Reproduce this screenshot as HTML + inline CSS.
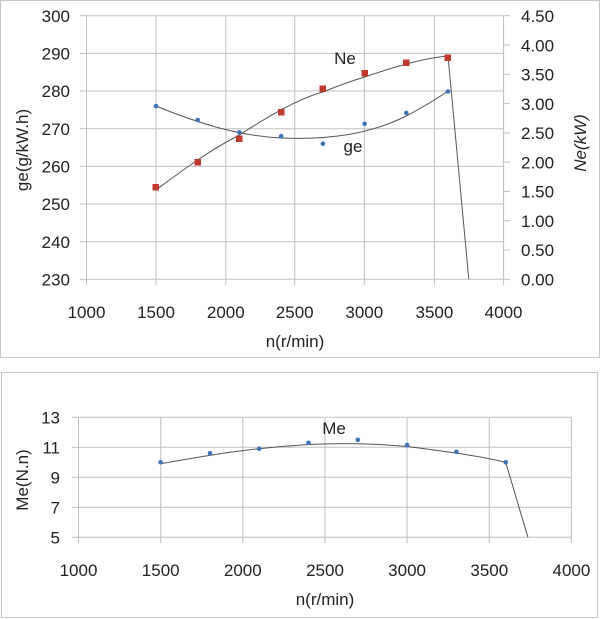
<!DOCTYPE html>
<html><head><style>
body{margin:0;background:#fff;}
svg{display:block;font-family:"Liberation Sans",Arial,sans-serif;}
</style></head><body>
<svg width="600" height="619" viewBox="0 0 600 619" xmlns="http://www.w3.org/2000/svg">
<rect x="0.5" y="0.5" width="599" height="357" fill="#fff" stroke="#c8c8c8"/>
<rect x="1.5" y="372.5" width="596" height="245" fill="#fff" stroke="#c8c8c8"/>
<g stroke="#c0c0c0" stroke-width="1">
<line x1="86.5" y1="15.7" x2="503.6" y2="15.7"/>
<line x1="86.5" y1="53.4" x2="503.6" y2="53.4"/>
<line x1="86.5" y1="91" x2="503.6" y2="91"/>
<line x1="86.5" y1="128.7" x2="503.6" y2="128.7"/>
<line x1="86.5" y1="166.4" x2="503.6" y2="166.4"/>
<line x1="86.5" y1="204" x2="503.6" y2="204"/>
<line x1="86.5" y1="241.7" x2="503.6" y2="241.7"/>
<line x1="86.5" y1="279.3" x2="503.6" y2="279.3"/>
<line x1="80" y1="15.7" x2="86.5" y2="15.7"/><line x1="80" y1="53.4" x2="86.5" y2="53.4"/><line x1="80" y1="91" x2="86.5" y2="91"/><line x1="80" y1="128.7" x2="86.5" y2="128.7"/><line x1="80" y1="166.4" x2="86.5" y2="166.4"/><line x1="80" y1="204" x2="86.5" y2="204"/><line x1="80" y1="241.7" x2="86.5" y2="241.7"/><line x1="80" y1="279.3" x2="86.5" y2="279.3"/>
<line x1="86.5" y1="15.7" x2="86.5" y2="285"/>
<line x1="156" y1="15.7" x2="156" y2="285"/>
<line x1="225.8" y1="15.7" x2="225.8" y2="285"/>
<line x1="294.7" y1="15.7" x2="294.7" y2="285"/>
<line x1="364.3" y1="15.7" x2="364.3" y2="285"/>
<line x1="434.4" y1="15.7" x2="434.4" y2="285"/>
<line x1="503.6" y1="15.7" x2="503.6" y2="285"/>
<line x1="503.6" y1="45" x2="510" y2="45"/><line x1="503.6" y1="74.3" x2="510" y2="74.3"/><line x1="503.6" y1="103.6" x2="510" y2="103.6"/><line x1="503.6" y1="132.9" x2="510" y2="132.9"/><line x1="503.6" y1="162.1" x2="510" y2="162.1"/><line x1="503.6" y1="191.4" x2="510" y2="191.4"/><line x1="503.6" y1="220.7" x2="510" y2="220.7"/><line x1="503.6" y1="250" x2="510" y2="250"/><line x1="503.6" y1="15.7" x2="510" y2="15.7"/><line x1="503.6" y1="279.3" x2="510" y2="279.3"/>
</g>
<g font-size="17" fill="#222" text-anchor="end">
<text x="70" y="22">300</text><text x="70" y="59.5">290</text><text x="70" y="97">280</text><text x="70" y="135">270</text><text x="70" y="172.5">260</text><text x="70" y="210">250</text><text x="70" y="248">240</text><text x="70" y="285.5">230</text>
</g>
<g font-size="17" fill="#222" text-anchor="start">
<text x="521" y="22">4.50</text><text x="521" y="51.5">4.00</text><text x="521" y="80.5">3.50</text><text x="521" y="110">3.00</text><text x="521" y="139">2.50</text><text x="521" y="168.5">2.00</text><text x="521" y="197.5">1.50</text><text x="521" y="227">1.00</text><text x="521" y="256">0.50</text><text x="521" y="285.5">0.00</text>
</g>
<g font-size="17" fill="#222" text-anchor="middle">
<text x="86.5" y="318">1000</text><text x="156" y="318">1500</text><text x="225.8" y="318">2000</text><text x="294.7" y="318">2500</text><text x="364.3" y="318">3000</text><text x="434.4" y="318">3500</text><text x="503.6" y="318">4000</text>
<text x="295" y="347">n(r/min)</text>
<text transform="translate(28,150) rotate(-90)">ge(g/kW.h)</text>
<text transform="translate(586,143) rotate(-90)" font-style="italic">Ne(kW)</text>
<text x="345" y="64">Ne</text>
<text x="353" y="152">ge</text>
</g>
<path d="M155.8,190 C190,165 210,150 239.4,135 C270,115 300,98 322.9,92 C345,83 358,79 364.6,77 C400,65 425,58 448,56 L468.8,279.3" fill="none" stroke="#555" stroke-width="1"/>
<path d="M156,106 C200,124 240,136 281,138 C330,140 370,134 406.3,116 C425,106 438,98 448,91" fill="none" stroke="#555" stroke-width="1"/>
<g fill="#c0392b">
<rect x="152.5" y="184" width="6.5" height="6.5"/><rect x="194.5" y="159" width="6.5" height="6.5"/><rect x="236" y="135.5" width="6.5" height="6.5"/><rect x="278" y="109" width="6.5" height="6.5"/><rect x="319.5" y="85.5" width="6.5" height="6.5"/><rect x="361.5" y="70" width="6.5" height="6.5"/><rect x="403" y="59.5" width="6.5" height="6.5"/><rect x="444.5" y="54.5" width="6.5" height="6.5"/>
</g>
<g fill="#3d74b8">
<circle cx="156" cy="106.1" r="2.3"/><circle cx="197.7" cy="120" r="2.3"/><circle cx="239.4" cy="132.4" r="2.3"/><circle cx="281.1" cy="136.2" r="2.3"/><circle cx="322.9" cy="143.7" r="2.3"/><circle cx="364.6" cy="123.8" r="2.3"/><circle cx="406.3" cy="112.9" r="2.3"/><circle cx="448" cy="91.5" r="2.3"/>
</g>
<g stroke="#c0c0c0" stroke-width="1">
<line x1="78.5" y1="417.3" x2="571.4" y2="417.3"/><line x1="78.5" y1="447.3" x2="571.4" y2="447.3"/><line x1="78.5" y1="477.3" x2="571.4" y2="477.3"/><line x1="78.5" y1="507.3" x2="571.4" y2="507.3"/><line x1="78.5" y1="537.3" x2="571.4" y2="537.3"/>
<line x1="72" y1="417.3" x2="78.5" y2="417.3"/><line x1="72" y1="447.3" x2="78.5" y2="447.3"/><line x1="72" y1="477.3" x2="78.5" y2="477.3"/><line x1="72" y1="507.3" x2="78.5" y2="507.3"/><line x1="72" y1="537.3" x2="78.5" y2="537.3"/>
<line x1="78.5" y1="417.3" x2="78.5" y2="543"/><line x1="160.7" y1="417.3" x2="160.7" y2="543"/><line x1="242.8" y1="417.3" x2="242.8" y2="543"/><line x1="325" y1="417.3" x2="325" y2="543"/><line x1="407.1" y1="417.3" x2="407.1" y2="543"/><line x1="489.3" y1="417.3" x2="489.3" y2="543"/><line x1="571.4" y1="417.3" x2="571.4" y2="543"/>
</g>
<g font-size="17" fill="#222" text-anchor="end">
<text x="60" y="423.5">13</text><text x="60" y="453.5">11</text><text x="60" y="483.5">9</text><text x="60" y="513.5">7</text><text x="60" y="543.5">5</text>
</g>
<g font-size="17" fill="#222" text-anchor="middle">
<text x="78.5" y="576">1000</text><text x="160.7" y="576">1500</text><text x="242.8" y="576">2000</text><text x="325" y="576">2500</text><text x="407.1" y="576">3000</text><text x="489.3" y="576">3500</text><text x="571.4" y="576">4000</text>
<text x="325" y="605">n(r/min)</text>
<text transform="translate(28,480) rotate(-90)">Me(N.n)</text>
<text x="334" y="434">Me</text>
</g>
<path d="M160.6,463.8 C210,455 250,448 308.5,444.5 C340,443 370,443 407.1,446.5 C450,452 480,456 505.7,462.3 L527.9,537.3" fill="none" stroke="#555" stroke-width="1"/>
<g fill="#3d74b8">
<circle cx="160.6" cy="462.3" r="2.3"/><circle cx="210" cy="453.3" r="2.3"/><circle cx="259.2" cy="448.8" r="2.3"/><circle cx="308.5" cy="442.8" r="2.3"/><circle cx="357.8" cy="439.8" r="2.3"/><circle cx="407.1" cy="445.1" r="2.3"/><circle cx="456.4" cy="451.8" r="2.3"/><circle cx="505.7" cy="462.3" r="2.3"/>
</g>
</svg>
</body></html>
